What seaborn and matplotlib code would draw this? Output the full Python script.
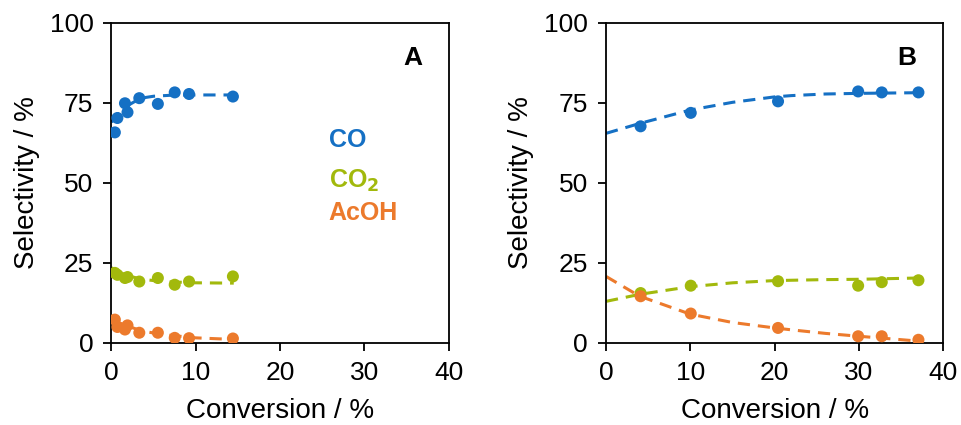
import numpy as np
import seaborn as sns
import matplotlib.pyplot as plt
import pandas as pd

sns.set_style("ticks")
plt.rcParams['font.family'] = ['Liberation Sans', 'DejaVu Sans']
plt.rcParams['text.color'] = 'black'
plt.rcParams['axes.labelcolor'] = 'black'

# colours of the three products
blue = "#1570C4"
green = "#A2B90C"
orange = "#EC7A2C"

# Panel A measured points
a_x = [0.4, 0.7, 1.6, 1.9, 3.3, 5.5, 7.5, 9.2, 14.4]
a_co = [65.8, 70.3, 74.9, 72.1, 76.5, 74.7, 78.3, 77.8, 77.0]
a_co2 = [21.9, 21.3, 20.3, 20.6, 19.2, 20.3, 18.2, 19.2, 20.8]
a_acoh = [7.3, 5.0, 4.2, 5.5, 3.2, 3.2, 1.6, 1.5, 1.4]

# Panel A trend lines
a_fit_x = [0, 1, 2, 3, 4, 5, 7, 10, 14.5]
a_fit_co = [69.0, 72.0, 74.3, 75.8, 76.7, 77.1, 77.4, 77.5, 77.5]
a_fit_co2 = [23.5, 22.0, 21.0, 20.3, 19.8, 19.5, 19.1, 18.8, 18.7]
a_fit_acoh = [7.5, 6.2, 5.2, 4.3, 3.6, 3.1, 2.4, 1.6, 1.1]

# Panel B measured points
b_x = [4.1, 10.05, 20.4, 29.9, 32.7, 37.05]
b_co = [67.7, 71.9, 75.5, 78.6, 78.3, 78.3]
b_co2 = [15.6, 17.9, 19.3, 17.9, 19.0, 19.6]
b_acoh = [14.6, 9.2, 4.7, 2.1, 2.1, 1.0]

# Panel B trend lines
b_fit_x = [0, 4, 10, 15, 20, 22, 26, 30, 37]
b_fit_co = [65.5, 68.6, 72.8, 75.2, 76.9, 77.3, 77.8, 78.0, 78.2]
b_fit_co2 = [13.0, 15.2, 17.6, 18.8, 19.5, 19.6, 19.8, 19.9, 20.3]
b_fit_acoh = [20.8, 14.6, 9.0, 6.4, 4.7, 4.1, 3.0, 2.1, 0.6]

fig = plt.figure(figsize=(9.61, 4.25), dpi=100)
ax_a = fig.add_axes([0.116, 0.193, 0.351, 0.753])
ax_b = fig.add_axes([0.6306, 0.193, 0.351, 0.753])

panels = [
    (ax_a, a_x, [a_co, a_co2, a_acoh], a_fit_x, [a_fit_co, a_fit_co2, a_fit_acoh], "A"),
    (ax_b, b_x, [b_co, b_co2, b_acoh], b_fit_x, [b_fit_co, b_fit_co2, b_fit_acoh], "B"),
]

for ax, x, ys, fx, fys, label in panels:
    for y, fy, c in zip(ys, fys, [blue, green, orange]):
        sns.lineplot(x=fx, y=fy, ax=ax, color=c, linewidth=2.2,
                     linestyle=(0, (4, 2.6)), zorder=2)
        sns.scatterplot(x=x, y=y, ax=ax, color=c, s=75, edgecolor="none", zorder=3)
    ax.set_xlim(0, 40)
    ax.set_ylim(0, 100)
    ax.set_xticks([0, 10, 20, 30, 40])
    ax.set_yticks([0, 25, 50, 75, 100])
    ax.tick_params(labelsize=19, direction="out", length=6, width=1.3,
                   colors="black", pad=7)
    for s in ax.spines.values():
        s.set_linewidth(1.3)
        s.set_color("black")
    ax.set_xlabel("Conversion / %", fontsize=20, labelpad=9)
    ax.set_ylabel("Selectivity / %", fontsize=20, labelpad=7)
    ax.text(0.893, 0.89, label, transform=ax.transAxes, fontsize=19,
            fontweight="bold", ha="center", va="center", color="black")

# in-plot legend text for panel A
ax_a.text(0.644, 0.634, "CO", transform=ax_a.transAxes, color=blue,
          fontsize=18, fontweight="bold", va="center")
ax_a.text(0.644, 0.506, "CO$_\\mathbf{2}$", transform=ax_a.transAxes, color=green,
          fontsize=18, fontweight="bold", va="center")
ax_a.text(0.644, 0.406, "AcOH", transform=ax_a.transAxes, color=orange,
          fontsize=18, fontweight="bold", va="center")

plt.savefig("out.png", dpi=100)
